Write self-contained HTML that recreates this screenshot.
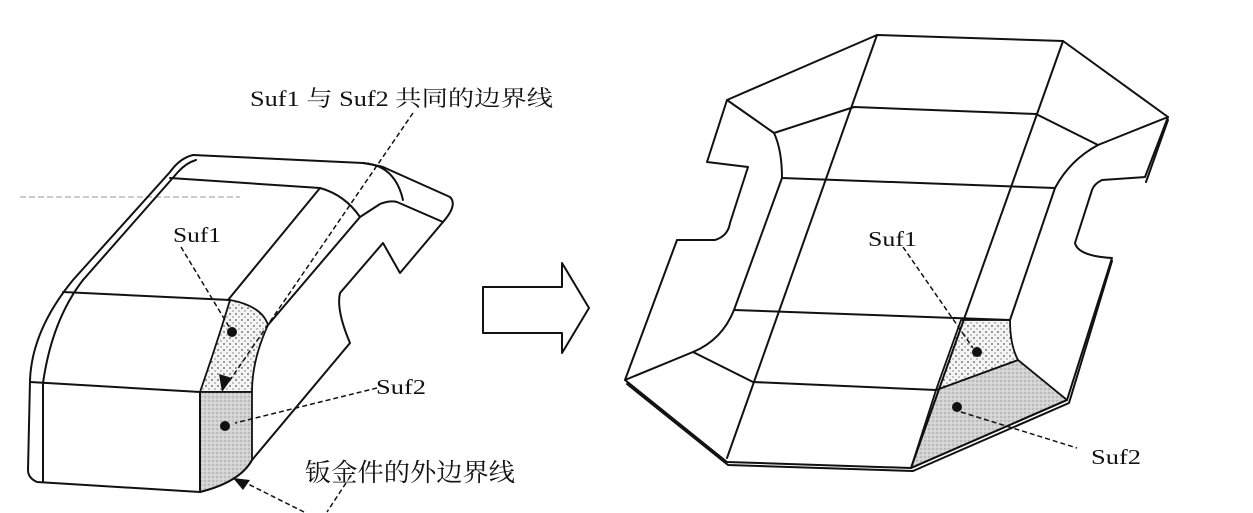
<!DOCTYPE html>
<html><head><meta charset="utf-8"><style>
html,body{margin:0;padding:0;background:#fff;}
svg{display:block;}
text{font-family:"Liberation Serif","Noto Serif CJK SC","Noto Sans CJK SC",serif;fill:#111;}
</style></head><body>
<svg width="1253" height="513" viewBox="0 0 1253 513" xmlns="http://www.w3.org/2000/svg">
<defs>
<pattern id="dots" width="6" height="6" patternUnits="userSpaceOnUse"><rect width="6" height="6" fill="#f4f4f4"/><circle cx="2" cy="2" r="0.9" fill="#555"/><circle cx="5" cy="5" r="0.7" fill="#777"/></pattern>
<pattern id="grain" width="4" height="4" patternUnits="userSpaceOnUse"><rect width="4" height="4" fill="#d2d2d2"/><circle cx="1" cy="1" r="0.7" fill="#999"/><circle cx="3" cy="3" r="0.6" fill="#eee"/></pattern>
</defs>
<line x1="20" y1="197" x2="240" y2="197" stroke="#bbb" stroke-width="1.5" stroke-dasharray="6 3"/>
<g fill="none" stroke="#111" stroke-width="2" stroke-linejoin="round" stroke-linecap="round">
<!-- LEFT FIGURE -->
<path d="M230,300 Q218,340 200,392 L252,392 Q252,360 268,325 Q262,306 230,300 Z" fill="url(#dots)" stroke-width="1.8"/>
<path d="M200,392 L252,392 L252,460 Q240,482 200,492 Z" fill="url(#grain)" stroke-width="1.8"/>
<path d="M193,155 L363,163 Q395,165 403,200"/>
<path d="M363,163 Q380,166 383,167 L450,197 Q458,205 443,222 L400,273 L383,243 L340,293 Q336,310 350,343 L252,460 Q240,482 200,492 L37,482 Q28,478 28,470 L30,380 Q32,330 73,280 L170,172 Q180,158 193,155"/>
<path d="M83,280 Q52,320 43,383 L43,482"/>
<path d="M83,280 L178,172 Q186,163 196,160"/>
<path d="M170,178 L320,188 Q345,195 360,217 L380,204 Q390,200 397,202 L443,222"/>
<path d="M63,292 L230,300"/>
<path d="M30,382 L200,392"/>
<path d="M200,392 L200,492"/>
<path d="M320,188 L228,300"/>
<path d="M360,217 L268,325"/>
<!-- RIGHT FIGURE -->
<path d="M936,390 L1018,360 L1067,400 L911,468 Z" fill="url(#grain)" stroke-width="1.8"/>
<path d="M961,320 L1010,320 Q1010,345 1018,360 L936,390 Z" fill="url(#dots)" stroke-width="1.8"/>
<path d="M877,35 L1063,41 L1168,117 L1145,177 L1102,180 Q1094,184 1092,190 L1075,243 Q1078,256 1112,258 L1067,400 L911,468 L727,462 L625,380 L677,240 L715,240 Q728,236 730,223 L748,167 L707,162 L727,100 Z"/>
<path d="M1168,120 L1146,182 M1112,261 L1069,403 L913,471 L728,465 L627,384"/>
<path d="M727,100 L774,133 Q782,150 782,178 L734,310 Q722,340 693,352 L625,380"/>
<path d="M774,133 L854,107 L1036,114 L1098,145 L1168,117"/>
<path d="M1098,145 Q1070,160 1055,188 L1010,320"/>
<path d="M782,178 L1055,188"/>
<path d="M734,310 L1010,320"/>
<path d="M693,352 L753,382 L936,390"/>
<path d="M877,35 L727,458"/>
<path d="M1063,41 L911,468"/>
<!-- big arrow -->
<path d="M483,287 L562,287 L562,263 L589,308 L562,353 L562,333 L483,333 Z"/>
</g>
<g fill="none" stroke="#111" stroke-width="1.5" stroke-dasharray="5 3">
<path d="M181,247 L231,330"/>
<path d="M377,388 L235,423"/>
<path d="M413,113 L228,383"/>
<path d="M304,512 L240,480"/>
<path d="M346,483 L327,512"/>
<path d="M903,247 L973,348"/>
<path d="M961,412 L1077,448"/>
</g>
<polygon points="222,392 219,374 232,378" fill="#111"/>
<polygon points="233,478 250,480 243,490" fill="#111"/>
<circle cx="232" cy="332" r="5" fill="#111"/>
<circle cx="225" cy="426" r="5" fill="#111"/>
<circle cx="977" cy="352" r="5" fill="#111"/>
<circle cx="957" cy="407" r="5" fill="#111"/>
<text x="250" y="106" font-size="22" textLength="303" lengthAdjust="spacingAndGlyphs">Suf1 与 Suf2 共同的边界线</text>
<text x="173" y="242" font-size="21" textLength="48" lengthAdjust="spacingAndGlyphs">Suf1</text>
<text x="376" y="394" font-size="21" textLength="50" lengthAdjust="spacingAndGlyphs">Suf2</text>
<text x="305" y="481" font-size="25" textLength="210" lengthAdjust="spacingAndGlyphs">钣金件的外边界线</text>
<text x="868" y="246" font-size="21" textLength="49" lengthAdjust="spacingAndGlyphs">Suf1</text>
<text x="1091" y="464" font-size="21" textLength="50" lengthAdjust="spacingAndGlyphs">Suf2</text>
</svg>
</body></html>
